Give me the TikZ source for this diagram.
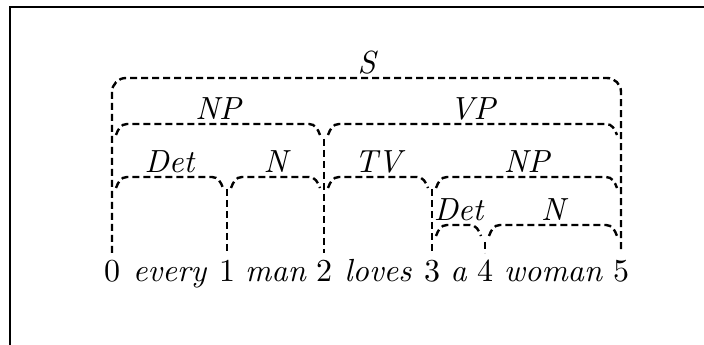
\documentclass[tikz,border=0pt]{standalone}
\usepackage{fontspec}
\begin{document}
\begin{tikzpicture}[x=1pt,y=1pt,
  edge/.style={dashed, dash pattern=on 7pt off 4pt, line width=2.4pt},
  tok/.style={anchor=base, inner sep=0pt, scale=3.2},
  wrd/.style={tok, font=\itshape},
  lab/.style={tok, font=\itshape}]
\useasboundingbox (0,0) rectangle (704,345);

% frame lines
\coordinate (fl) at (10,0);
\coordinate (fc) at (10,338);
\coordinate (fr) at (704,338);
\draw[line width=2pt] (fl) -- (fc) -- (fr);

% chart positions and the words between them
\node[tok] (n0) at (112,63) {0};
\node[wrd] (w1) at (169.5,63) {every};
\node[tok] (n1) at (227,63) {1};
\node[wrd] (w2) at (275.5,63) {man};
\node[tok] (n2) at (324,63) {2};
\node[wrd] (w3) at (378,63) {loves};
\node[tok] (n3) at (432,63) {3};
\node[wrd] (w4) at (458.5,63) {a};
\node[tok] (n4) at (485,63) {4};
\node[wrd] (w5) at (553,63) {woman};
\node[tok] (n5) at (621,63) {5};

% foot of each vertical line
\coordinate (b0) at (112,92);
\coordinate (b1) at (227,92);
\coordinate (b2) at (324,92);
\coordinate (b3) at (432,92);
\coordinate (b4) at (485,92);
\coordinate (b5) at (621,92);

% top of each inner vertical line
\coordinate (u1) at (227,156);
\coordinate (u2) at (324,206);
\coordinate (u3) at (432,156);
\coordinate (u4) at (485,103);

\draw[edge] (u1) -- (b1);
\draw[edge] (u2) -- (b2);
\draw[edge] (u3) -- (b3);
\draw[edge] (u4) -- (b4);

% the full-span edge S
\coordinate (s0) at (112,267);
\coordinate (s5) at (621,267);
\draw[edge, rounded corners=14pt] (b0) -- (s0) -- (s5) -- (b5);
\node[lab] (lS) at (366.5,271) {S};

% an edge spanning #1..#2 at height #3, labelled #4, label named #5
\newcommand\chartarc[5]{%
  \draw[edge] (#1+4,#3-11) to[out=70,in=180] (#1+15,#3) -- (#2-15,#3)
    to[out=0,in=110] (#2-4,#3-11);
  \node[lab] (#5) at ({(#1+#2)/2},#3+4) {#4};
}

\chartarc{112}{324}{221}{NP}{lNPa}
\chartarc{324}{621}{221}{VP}{lVP}
\chartarc{112}{227}{168}{Det}{lDeta}
\chartarc{227}{324}{168}{N}{lNa}
\chartarc{324}{432}{168}{TV}{lTV}
\chartarc{432}{621}{168}{NP}{lNPb}
\chartarc{432}{485}{120}{Det}{lDetb}
\chartarc{485}{621}{120}{N}{lNb}
\end{tikzpicture}
\end{document}
